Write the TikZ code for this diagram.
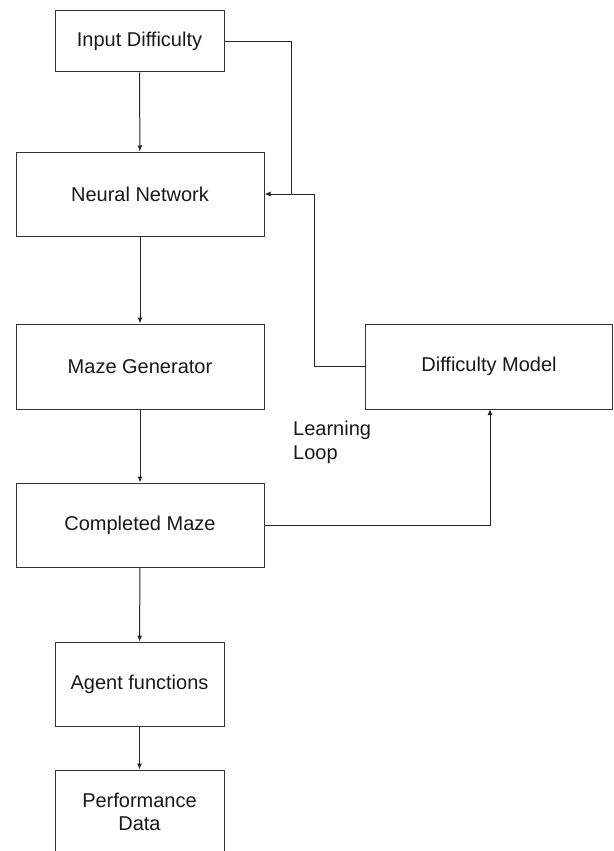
\documentclass[tikz,border=0pt]{standalone}
\usepackage{fontspec}
\setmainfont{Liberation Sans}
\usetikzlibrary{arrows.meta}
\begin{document}
\begin{tikzpicture}[x=1pt,y=-1pt,
  box/.style={draw=black!80,line width=1pt,inner sep=0pt,align=center,font=\fontsize{20}{23}\selectfont,text=black!90},
  conn/.style={draw=black!85,line width=1pt},
  arr/.style={conn,-{Latex[length=6pt,width=5pt]}}]
\useasboundingbox (0,0) rectangle (613,851);
\node[box,minimum width=169pt,minimum height=61pt] (inp) at (139.5,41.5) {Input Difficulty};
\node[box,minimum width=248pt,minimum height=84pt] (nn) at (140,194) {Neural Network};
\node[box,minimum width=248pt,minimum height=85pt] (mg) at (140,366.5) {Maze Generator};
\node[box,minimum width=247pt,minimum height=85pt] (dm) at (489,366.5) {Difficulty Model};
\node[box,minimum width=248pt,minimum height=84pt] (cm) at (140,525) {Completed Maze};
\node[box,minimum width=169pt,minimum height=84pt] (ag) at (139.5,684) {Agent functions};
\node[box,minimum width=169pt,minimum height=84pt] (pd) at (139.5,812) {Performance\\Data};
\node[anchor=north west,inner sep=0pt,align=left,font=\fontsize{20}{24}\selectfont,text=black!90] (ll) at (293,421) {Learning\\Loop};
\coordinate (j1) at (291,194);
\coordinate (dmb) at (490,409);
\draw[arr] (inp) -- (nn);
\draw[arr] (nn) -- (mg);
\draw[arr] (mg) -- (cm);
\draw[arr] (cm) -- (ag);
\draw[arr] (ag) -- (pd);
\draw[conn] (inp.east) -| (j1);
\draw[arr] (dm.west) -| (314,194) -- (nn.east);
\draw[arr] (cm.east) -| (dmb);
\end{tikzpicture}
\end{document}
